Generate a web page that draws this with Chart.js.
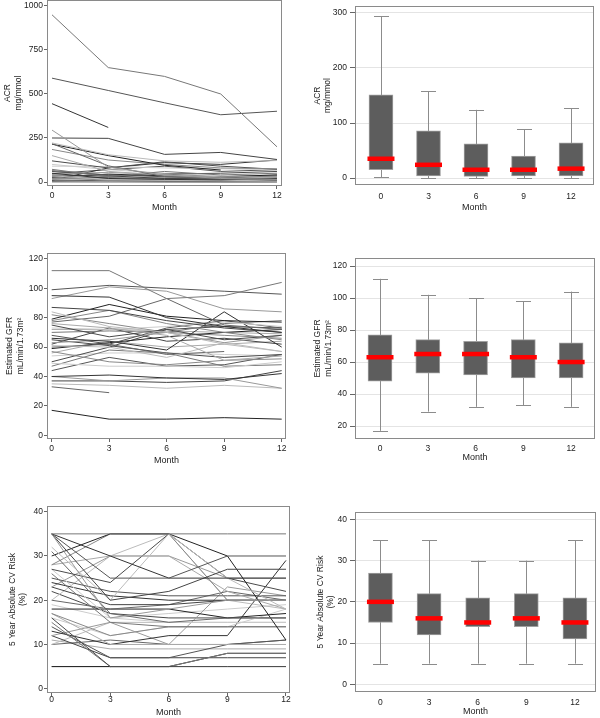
<!DOCTYPE html>
<html>
<head>
<meta charset="utf-8">
<script src="https://cdn.jsdelivr.net/npm/chart.js@4.4.1/dist/chart.umd.min.js"></script>
<style>
  html, body { margin: 0; padding: 0; background: #fff; }
  #wrap { position: relative; width: 600px; height: 718px; overflow: hidden; background: #fff; }
  #wrap canvas { position: absolute; }
</style>
</head>
<body>
<div id="wrap">
  <canvas id="acrLines"></canvas>
  <canvas id="acrBox"></canvas>
  <canvas id="gfrLines"></canvas>
  <canvas id="gfrBox"></canvas>
  <canvas id="cvLines"></canvas>
  <canvas id="cvBox"></canvas>
</div>
<script>
const months = [0, 3, 6, 9, 12];

// individual patients, value at 0/3/6/9/12 months (null = missing)
const acrPatients = [
  [950, 650, 600, 500, 200], [590, 520, 450, 382, 402], [445, 310, null, null, null],
  [295, 85, 40, 20, 15], [250, 248, 157, 168, 128], [222, 155, 120, 112, 122],
  [218, 92, 30, 18, 10], [215, 150, 95, 68, null], [185, 125, 100, 80, 75],
  [150, 60, 40, 30, 28], [120, 80, 115, 90, 72], [90, 88, 80, 75, 70],
  [72, 30, 60, 40, 50], [60, 40, 30, 22, 35], [50, 20, 15, 12, 20],
  [45, 55, 40, 25, 30], [40, 35, 20, 18, 12], [35, 15, 10, 8, 6],
  [30, 25, 20, 15, 25], [28, 45, 35, 30, 40], [25, 10, 8, 5, 4],
  [22, 18, 25, 20, 15], [20, 30, 45, 50, 60], [18, 12, 10, 10, 8],
  [15, 20, 12, 8, 10], [12, 8, 5, 4, 5], [10, 80, 110, 100, 125],
  [10, 6, 4, 3, 3], [8, 10, 12, 6, 8], [6, 4, 3, 3, 2],
  [5, 5, 4, 4, 3], [4, 3, 2, 2, 2], [3, 2, 3, 2, 2],
  [2, 2, 1, 1, 1], [1, 1, 1, 1, 1], [100, 70, 50, 35, 30],
  [65, 40, 45, 30, 40], [48, 70, 90, 60, 70]
];
const gfrPatients = [
  [112, 112, 93, 95, 104], [99, 102, 100, 98, 96], [95, 94, 80, 74, 70],
  [93, 101, 98, 86, 84], [87, 85, 78, 73, 70], [84, 74, 70, 62, 57],
  [77, 81, 93, 75, 72], [79, 89, 81, 78, 77], [78, 85, 76, 70, 65],
  [76, 73, 68, 51, 54], [75, 67, 72, 65, 68], [73, 72, 74, 77, 74],
  [70, 71, 70, 76, 78], [68, 62, 73, 78, 73], [66, 64, 58, 84, 60],
  [63, 65, 70, 63, 68], [62, 73, 64, 66, 62], [61, 60, 53, 63, 57],
  [60, 62, 55, 57, null], [59, 63, 67, 70, 72], [57, 50, 48, 51, 52],
  [56, 64, 60, 62, 64], [50, 60, 72, 74, 73], [49, 47, 47, 46, 50],
  [47, 58, 56, 47, 48], [44, 53, 47, 48, 55], [40, 41, 39, 38, 42],
  [40, 37, 39, 39, 32], [37, 37, 36, 37, 44], [35, 34, 32, 34, 32],
  [33, 29, null, null, null], [17, 11, 11, 12, 11], [82, 76, 70, 68, 66],
  [72, 72, 71, 70, 69], [65, 61, 56, 53, 55], [54, 56, 56, 55, 54]
];
const cvPatients = [
  [35, 35, 35, 35, 35], [35, 25, 25, 30, 30], [35, 30, 25, 25, 25],
  [35, 16, 18, 20, 20], [35, 20, 22, 27, 27], [32, 20, 35, 25, 18],
  [31, 17, 15, 16, 16], [30, 35, 35, 30, 11], [28, 35, 35, 20, 20],
  [28, 30, 30, 22, 18], [27, 24, 35, 25, 22], [27, 16, 15, 15, 15],
  [26, 15, 14, 14, 14], [25, 22, 21, 21, 21], [24, 21, 20, 20, 20],
  [23, 30, 30, 25, 25], [23, 19, 19, 20, 20], [20, 30, 35, 20, 18],
  [20, 18, 19, 22, 20], [18, 18, 18, 16, 17], [17, 12, 14, 14, 14],
  [17, 10, 10, 10, 10], [16, 5, 5, 5, 5], [16, 12, 14, 14, 18],
  [15, 5, 5, 8, 8], [14, 7, 7, 10, 11], [13, 10, 12, 12, 29],
  [12, 15, 10, 23, 21], [12, 7, 7, 7, 7], [10, 15, 15, 15, 15],
  [10, 11, 10, 10, 11], [5, 5, 5, 8, 8], [5, 5, 5, 5, 5],
  [11, 9, 9, 9, 9], [22, 17, 16, 16, 16], [19, 16, 17, 18, 19]
];

// box plot summaries per month
const acrLow = [1, 0, 0, 0, 0];
const acrQ1 = [15, 4, 3, 4, 4];
const acrMedian = [35, 24, 15, 15, 17];
const acrQ3 = [151, 86, 62, 40, 64];
const acrHigh = [294, 158, 124, 89, 127];

const gfrLow = [17, 29, 32, 33, 32];
const gfrQ1 = [48, 53, 52, 50, 50];
const gfrMedian = [63, 65, 65, 63, 60];
const gfrQ3 = [77, 74, 73, 74, 72];
const gfrHigh = [112, 102, 100, 98, 104];

const cvLow = [5, 5, 5, 5, 5];
const cvQ1 = [15, 12, 14, 14, 11];
const cvMedian = [20, 16, 15, 16, 15];
const cvQ3 = [27, 22, 21, 22, 21];
const cvHigh = [35, 35, 30, 30, 35];

const acrTicks = [0, 250, 500, 750, 1000];
const acrBoxTicks = [0, 100, 200, 300];
const gfrTicks = [0, 20, 40, 60, 80, 100, 120];
const gfrBoxTicks = [20, 40, 60, 80, 100, 120];
const cvTicks = [0, 10, 20, 30, 40];

const grays = ['#777', '#555', '#333', '#999', '#444', '#bbb', '#666', '#222', '#888', '#aaa', '#4a4a4a', '#ccc'];

const FONT = "'Liberation Sans', Arial, sans-serif";
const PAD = 12;

function place(id, frame, yW, xH) {
  const c = document.getElementById(id);
  c.width = frame.r - frame.l + yW + PAD;
  c.height = frame.b - frame.t + PAD + xH;
  c.style.left = (frame.l - yW) + 'px';
  c.style.top = (frame.t - PAD) + 'px';
  return c;
}

const framePlugin = {
  id: 'frame',
  afterDatasetsDraw(chart) {
    const { ctx, chartArea: a } = chart;
    ctx.save();
    ctx.strokeStyle = '#8a8a8a';
    ctx.lineWidth = 1;
    ctx.strokeRect(Math.round(a.left) + 0.5, Math.round(a.top) + 0.5,
      Math.round(a.right - a.left) - 1, Math.round(a.bottom - a.top) - 1);
    ctx.restore();
  }
};

function boxParts(low, median, high) {
  return {
    id: 'boxParts',
    beforeDatasetsDraw(chart) {
      const { ctx, scales: { x, y } } = chart;
      ctx.save();
      ctx.strokeStyle = '#8c8c8c';
      ctx.lineWidth = 1;
      months.forEach((m, i) => {
        const px = Math.round(x.getPixelForValue(m)) + 0.5;
        ctx.beginPath();
        ctx.moveTo(px, y.getPixelForValue(low[i]));
        ctx.lineTo(px, y.getPixelForValue(high[i]));
        ctx.stroke();
        [low[i], high[i]].forEach(v => {
          const py = Math.round(y.getPixelForValue(v)) + 0.5;
          ctx.beginPath();
          ctx.moveTo(px - 7.5, py);
          ctx.lineTo(px + 7.5, py);
          ctx.stroke();
        });
      });
      ctx.restore();
    },
    afterDatasetsDraw(chart) {
      const { ctx, scales: { x, y } } = chart;
      ctx.save();
      ctx.strokeStyle = '#ff0000';
      ctx.lineWidth = 4.5;
      months.forEach((m, i) => {
        const px = x.getPixelForValue(m);
        const py = y.getPixelForValue(median[i]);
        ctx.beginPath();
        ctx.moveTo(px - 13.5, py);
        ctx.lineTo(px + 13.5, py);
        ctx.stroke();
      });
      ctx.restore();
    }
  };
}

function yAxis(min, max, ticks, title, titlePad, yW, box) {
  return {
    type: 'linear', min, max,
    afterBuildTicks: s => { s.ticks = ticks.map(v => ({ value: v })); },
    afterFit: s => { s.width = yW; },
    border: { display: false },
    grid: {
      drawOnChartArea: !!box, color: '#e4e4e4', lineWidth: 1,
      tickColor: '#666', tickLength: box ? 5 : 3
    },
    ticks: {
      padding: box ? 3 : 1, color: '#222', font: { family: FONT, size: 8.5 },
      callback: v => String(v)
    },
    title: {
      display: true, text: title, color: '#222', padding: { top: titlePad, bottom: 0 },
      font: { family: FONT, size: 8.5, lineHeight: 1.2 }
    }
  };
}

function xAxis(min, max, xH, labelPad, box) {
  return {
    type: 'linear', min, max, offset: false,
    afterBuildTicks: s => { s.ticks = months.map(v => ({ value: v })); },
    afterFit: s => { s.height = xH; },
    border: { display: false },
    grid: { display: !box, drawOnChartArea: false, tickColor: '#666', tickLength: 3, offset: false },
    ticks: {
      padding: labelPad, color: '#222', maxRotation: 0, font: { family: FONT, size: 8.5 },
      callback: v => String(v)
    },
    title: {
      display: true, text: 'Month', color: '#222', padding: { top: 0, bottom: 0 },
      font: { family: FONT, size: 9, lineHeight: 1.1 }
    }
  };
}

function baseOptions(scales) {
  return {
    responsive: false, animation: false, devicePixelRatio: 1,
    layout: { padding: { top: PAD, right: PAD, left: 0, bottom: 0 } },
    plugins: { legend: { display: false }, tooltip: { enabled: false } },
    scales
  };
}

function spaghetti(id, frame, rows, yMin, yMax, ticks, title, titlePad, xMin, xMax, xH, labelPad) {
  const canvas = place(id, frame, 47, xH);
  new Chart(canvas, {
    type: 'line',
    data: {
      datasets: rows.map((row, i) => ({
        data: months.map((m, j) => ({ x: m, y: row[j] })),
        borderColor: grays[i % grays.length],
        borderWidth: 1,
        pointRadius: 0,
        fill: false,
        tension: 0
      }))
    },
    options: baseOptions({
      x: xAxis(xMin, xMax, xH, labelPad, false),
      y: yAxis(yMin, yMax, ticks, title, titlePad, 47, false)
    }),
    plugins: [framePlugin]
  });
}

function boxChart(id, frame, low, q1, median, q3, high, yMin, yMax, ticks, title, titlePad, xMin, xMax, xH, labelPad) {
  const canvas = place(id, frame, 55, xH);
  new Chart(canvas, {
    type: 'bar',
    data: {
      datasets: [{
        data: months.map((m, i) => ({ x: m, y: [q1[i], q3[i]] })),
        backgroundColor: '#5d5d5d',
        borderColor: '#a0a0a0',
        borderWidth: 1,
        borderSkipped: false,
        barThickness: 24
      }]
    },
    options: baseOptions({
      x: xAxis(xMin, xMax, xH, labelPad, true),
      y: yAxis(yMin, yMax, ticks, title, titlePad, 55, true)
    }),
    plugins: [boxParts(low, median, high), framePlugin]
  });
}

spaghetti('acrLines', { l: 47, t: 0, r: 282, b: 186 }, acrPatients, -22.7, 1034, acrTicks,
  ['ACR', 'mg/mmol'], 3, -0.267, 12.267, 26, 2);
boxChart('acrBox', { l: 355, t: 6, r: 594, b: 185 }, acrLow, acrQ1, acrMedian, acrQ3, acrHigh,
  -12.7, 312.7, acrBoxTicks, ['ACR', 'mg/mmol'], 12.6, -1.64, 13.45, 27, 4);

spaghetti('gfrLines', { l: 47, t: 253, r: 286, b: 439 }, gfrPatients, -2.5, 124, gfrTicks,
  ['Estimated GFR', 'mL/min/1.73m\u00b2'], 5, -0.245, 12.225, 26, 2);
boxChart('gfrBox', { l: 355, t: 258, r: 595, b: 439 }, gfrLow, gfrQ1, gfrMedian, gfrQ3, gfrHigh,
  11.9, 125, gfrBoxTicks, ['Estimated GFR', 'mL/min/1.73m\u00b2'], 12.9, -1.57, 13.5, 23, 2);

spaghetti('cvLines', { l: 47, t: 506, r: 290, b: 693 }, cvPatients, -0.97, 41.3, cvTicks,
  ['5 Year Absolute CV Risk', '(%)'], 7.4, -0.24, 12.205, 24, -1);
boxChart('cvBox', { l: 355, t: 512, r: 596, b: 692 }, cvLow, cvQ1, cvMedian, cvQ3, cvHigh,
  -1.87, 41.8, cvTicks, ['5 Year Absolute CV Risk', '(%)'], 15.6, -1.57, 13.3, 24, 2.5);
</script>
</body>
</html>
